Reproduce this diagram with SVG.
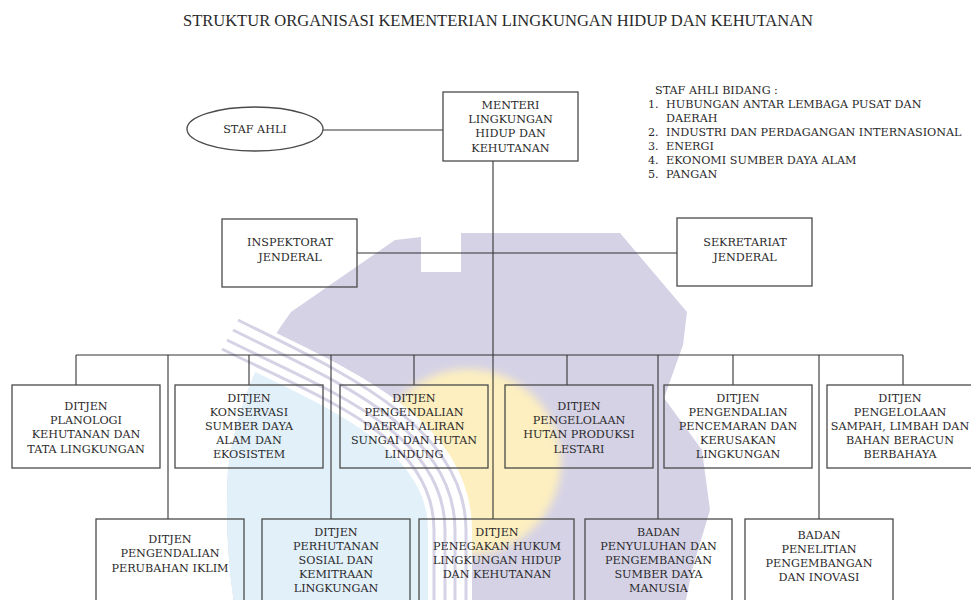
<svg xmlns="http://www.w3.org/2000/svg" width="971" height="600" viewBox="0 0 971 600">
<style>
.t{font-family:"DejaVu Serif","Liberation Serif",serif;font-size:11.2px;fill:#2a2a2a;text-anchor:middle}
.l{font-family:"DejaVu Serif","Liberation Serif",serif;font-size:11.2px;fill:#2a2a2a}
.b{fill:none;stroke:#4a4a4a;stroke-width:1.3}
.c{fill:none;stroke:#333;stroke-width:1.1}
.s{fill:none;stroke:#d5d2e6;stroke-width:3}
</style>
<defs>
<clipPath id="gearClip"><path d="M291,312 L395,240 L421,237 L421,272 L461,272 L461,233 L620,233 L687,312 L683,345 L664,398 L702,450 L710,510 L692,570 L684,610 L235,610 Q224,540 228,470 Q240,380 291,312 Z"/></clipPath>
<filter id="soft" x="-20%" y="-20%" width="140%" height="140%"><feGaussianBlur stdDeviation="4"/></filter>
</defs>
<rect width="971" height="600" fill="#fff"/>
<g id="watermark">
<path d="M291,312 L395,240 L421,237 L421,272 L461,272 L461,233 L620,233 L687,312 L683,345 L664,398 L702,450 L710,510 L692,570 L684,610 L235,610 Q224,540 228,470 Q240,380 291,312 Z" fill="#d5d2e6"/>
<g clip-path="url(#gearClip)">
<circle cx="468" cy="462" r="93" fill="#fdefbf" filter="url(#soft)"/>
<path d="M180,330 L230,335 C330,385 450,430 450,530 L450,610 L180,610 Z" fill="#e2f0fa"/>
</g>
<path d="M230,335 C330,385 450,430 450,530 L450,610" fill="none" stroke="#fff" stroke-width="44"/>
<path class="s" d="M238,320 C338,370 466,425 466,530 L466,610"/>
<path class="s" d="M233,330 C333,380 455,428 455,530 L455,610"/>
<path class="s" d="M227,340 C327,390 445,432 445,530 L445,610"/>
<path class="s" d="M222,349 C322,399 434,436 434,530 L434,610"/>
</g>
<text x="498" y="26" style="font-family:'Liberation Serif','DejaVu Serif',serif;font-size:16px;fill:#2a2a2a;text-anchor:middle" textLength="630" lengthAdjust="spacingAndGlyphs">STRUKTUR ORGANISASI KEMENTERIAN LINGKUNGAN HIDUP DAN KEHUTANAN</text>
<g id="connectors">
<line class="c" x1="323" y1="130" x2="443" y2="130"/>
<line class="c" x1="493" y1="161" x2="493" y2="519"/>
<line class="c" x1="357" y1="253" x2="677" y2="253"/>
<line class="c" x1="76" y1="355" x2="903" y2="355"/>
<line class="c" x1="76" y1="355" x2="76" y2="385"/>
<line class="c" x1="168" y1="355" x2="168" y2="519"/>
<line class="c" x1="249" y1="355" x2="249" y2="385"/>
<line class="c" x1="331" y1="355" x2="331" y2="519"/>
<line class="c" x1="414" y1="355" x2="414" y2="385"/>
<line class="c" x1="567" y1="355" x2="567" y2="385"/>
<line class="c" x1="658" y1="355" x2="658" y2="519"/>
<line class="c" x1="733" y1="355" x2="733" y2="385"/>
<line class="c" x1="819" y1="355" x2="819" y2="519"/>
<line class="c" x1="903" y1="355" x2="903" y2="385"/>
</g>
<g id="staf-ahli">
<ellipse class="b" cx="255" cy="129" rx="68" ry="22"/>
<text class="t" x="255" y="133.3">STAF AHLI</text>
</g>
<g id="menteri">
<rect class="b" x="443" y="92" width="135" height="69"/>
<text class="t" x="510.5" y="109">MENTERI</text>
<text class="t" x="510.5" y="123.3">LINGKUNGAN</text>
<text class="t" x="510.5" y="137.3">HIDUP DAN</text>
<text class="t" x="510.5" y="151.7">KEHUTANAN</text>
</g>
<g id="staf-ahli-bidang">
<text class="l" x="655" y="93.7">STAF AHLI BIDANG :</text>
<text class="l" x="648" y="107.7">1.</text><text class="l" x="666" y="107.7">HUBUNGAN ANTAR LEMBAGA PUSAT DAN</text>
<text class="l" x="666" y="121.7">DAERAH</text>
<text class="l" x="648" y="136.3">2.</text><text class="l" x="666" y="136.3">INDUSTRI DAN PERDAGANGAN INTERNASIONAL</text>
<text class="l" x="648" y="150.3">3.</text><text class="l" x="666" y="150.3">ENERGI</text>
<text class="l" x="648" y="164.3">4.</text><text class="l" x="666" y="164.3">EKONOMI SUMBER DAYA ALAM</text>
<text class="l" x="648" y="178.3">5.</text><text class="l" x="666" y="178.3">PANGAN</text>
</g>
<g id="inspektorat">
<rect class="b" x="222" y="219" width="135" height="68"/>
<text class="t" x="290" y="246.3">INSPEKTORAT</text>
<text class="t" x="290" y="260.7">JENDERAL</text>
</g>
<g id="sekretariat">
<rect class="b" x="677" y="218" width="135" height="68"/>
<text class="t" x="745" y="246.3">SEKRETARIAT</text>
<text class="t" x="745" y="260.7">JENDERAL</text>
</g>
<g id="planologi">
<rect class="b" x="12" y="385" width="148" height="83"/>
<text class="t" x="86" y="410">DITJEN</text>
<text class="t" x="86" y="424">PLANOLOGI</text>
<text class="t" x="86" y="438">KEHUTANAN DAN</text>
<text class="t" x="86" y="452.5">TATA LINGKUNGAN</text>
</g>
<g id="konservasi">
<rect class="b" x="175" y="385" width="148" height="83"/>
<text class="t" x="249" y="402">DITJEN</text>
<text class="t" x="249" y="416">KONSERVASI</text>
<text class="t" x="249" y="430">SUMBER DAYA</text>
<text class="t" x="249" y="444">ALAM DAN</text>
<text class="t" x="249" y="458.3">EKOSISTEM</text>
</g>
<g id="das">
<rect class="b" x="340" y="385" width="148" height="83"/>
<text class="t" x="414" y="402">DITJEN</text>
<text class="t" x="414" y="416">PENGENDALIAN</text>
<text class="t" x="414" y="430">DAERAH ALIRAN</text>
<text class="t" x="414" y="444">SUNGAI DAN HUTAN</text>
<text class="t" x="414" y="458.3">LINDUNG</text>
</g>
<g id="hutan-produksi">
<rect class="b" x="505" y="385" width="148" height="83"/>
<text class="t" x="579" y="410">DITJEN</text>
<text class="t" x="579" y="424">PENGELOLAAN</text>
<text class="t" x="579" y="438">HUTAN PRODUKSI</text>
<text class="t" x="579" y="452.5">LESTARI</text>
</g>
<g id="pencemaran">
<rect class="b" x="664" y="385" width="148" height="83"/>
<text class="t" x="738" y="402">DITJEN</text>
<text class="t" x="738" y="416">PENGENDALIAN</text>
<text class="t" x="738" y="430">PENCEMARAN DAN</text>
<text class="t" x="738" y="444">KERUSAKAN</text>
<text class="t" x="738" y="458.3">LINGKUNGAN</text>
</g>
<g id="sampah">
<rect class="b" x="827" y="385" width="148" height="83"/>
<text class="t" x="900" y="402">DITJEN</text>
<text class="t" x="900" y="416">PENGELOLAAN</text>
<text class="t" x="900" y="430">SAMPAH, LIMBAH DAN</text>
<text class="t" x="900" y="444">BAHAN BERACUN</text>
<text class="t" x="900" y="458.3">BERBAHAYA</text>
</g>
<g id="perubahan-iklim">
<rect class="b" x="96" y="519" width="148" height="95"/>
<text class="t" x="170" y="543">DITJEN</text>
<text class="t" x="170" y="557.3">PENGENDALIAN</text>
<text class="t" x="170" y="571.7">PERUBAHAN IKLIM</text>
</g>
<g id="perhutanan-sosial">
<rect class="b" x="262" y="519" width="148" height="95"/>
<text class="t" x="336" y="535.7">DITJEN</text>
<text class="t" x="336" y="549.5">PERHUTANAN</text>
<text class="t" x="336" y="563.5">SOSIAL DAN</text>
<text class="t" x="336" y="577.5">KEMITRAAN</text>
<text class="t" x="336" y="591.7">LINGKUNGAN</text>
</g>
<g id="penegakan-hukum">
<rect class="b" x="419" y="519" width="155" height="95"/>
<text class="t" x="497" y="535.7">DITJEN</text>
<text class="t" x="497" y="549.5">PENEGAKAN HUKUM</text>
<text class="t" x="497" y="563.5">LINGKUNGAN HIDUP</text>
<text class="t" x="497" y="577.5">DAN KEHUTANAN</text>
</g>
<g id="badan-penyuluhan">
<rect class="b" x="585" y="519" width="147" height="95"/>
<text class="t" x="658.5" y="535.7">BADAN</text>
<text class="t" x="658.5" y="549.5">PENYULUHAN DAN</text>
<text class="t" x="658.5" y="563.5">PENGEMBANGAN</text>
<text class="t" x="658.5" y="577.5">SUMBER DAYA</text>
<text class="t" x="658.5" y="591.7">MANUSIA</text>
</g>
<g id="badan-penelitian">
<rect class="b" x="745" y="519" width="148" height="95"/>
<text class="t" x="819" y="538.7">BADAN</text>
<text class="t" x="819" y="553">PENELITIAN</text>
<text class="t" x="819" y="566.8">PENGEMBANGAN</text>
<text class="t" x="819" y="581.3">DAN INOVASI</text>
</g>
</svg>
